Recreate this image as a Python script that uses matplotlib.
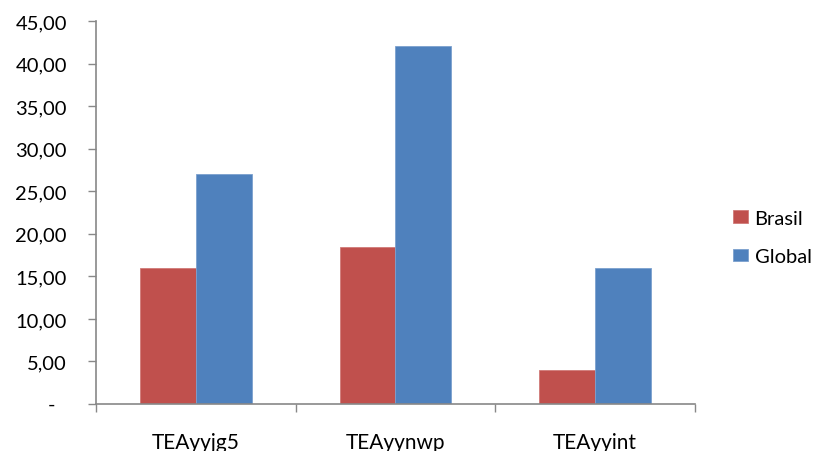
import numpy as np
import matplotlib.pyplot as plt
from matplotlib.ticker import FixedLocator, FuncFormatter

# TEA indicators, Brasil vs Global
categories = ['TEAyyjg5', 'TEAyynwp', 'TEAyyint']
brasil = [16.0, 18.5, 4.0]
global_ = [27.0, 42.1, 16.0]

plt.rcParams['font.family'] = ['Lato', 'DejaVu Sans']

fig = plt.figure(figsize=(8.16, 4.52), dpi=100)
ax = fig.add_axes([0.1176, 0.104, 0.734, 0.847])

x = np.arange(len(categories))
w = 0.28
ax.bar(x - w / 2, brasil, w, color='#C0504D', edgecolor='#D07A78', linewidth=0.6, label='Brasil')
ax.bar(x + w / 2, global_, w, color='#4F81BD', edgecolor='#7CA0CE', linewidth=0.6, label='Global')

ax.set_xlim(-0.5, len(categories) - 0.5)
ax.set_ylim(0, 45)
ax.set_yticks(np.arange(0, 46, 5))
ax.yaxis.set_major_formatter(FuncFormatter(
    lambda v, p: '' if v == 0 else f'{v:.2f}'.replace('.', ',')))
# accounting style: zero shown as a dash, sitting left of the decimals
ax.text(-0.075, 0, '-', transform=ax.get_yaxis_transform(),
        ha='center', va='center', fontsize=14.5)

# category labels centered, tick marks on the boundaries
ax.xaxis.set_major_locator(FixedLocator(np.arange(-0.5, len(categories), 1.0)))
ax.xaxis.set_major_formatter(FuncFormatter(lambda v, p: ''))
ax.xaxis.set_minor_locator(FixedLocator(x))
ax.set_xticklabels(categories, minor=True)
ax.tick_params(axis='x', which='minor', length=0, pad=20, labelsize=15, colors='black')
ax.tick_params(axis='x', which='major', length=6, width=1, color='#888888')
ax.tick_params(axis='y', length=6, width=1, color='#888888', pad=15, labelsize=14.5)

for s in ['top', 'right']:
    ax.spines[s].set_visible(False)
for s in ['left', 'bottom']:
    ax.spines[s].set_color('#888888')
    ax.spines[s].set_linewidth(1.2)

ax.legend(loc='center left', bbox_to_anchor=(1.034, 0.435), frameon=False,
          handlelength=0.75, handleheight=0.6, handletextpad=0.3,
          labelspacing=1.05, fontsize=14.5)

fig.savefig('out.png', dpi=100)
